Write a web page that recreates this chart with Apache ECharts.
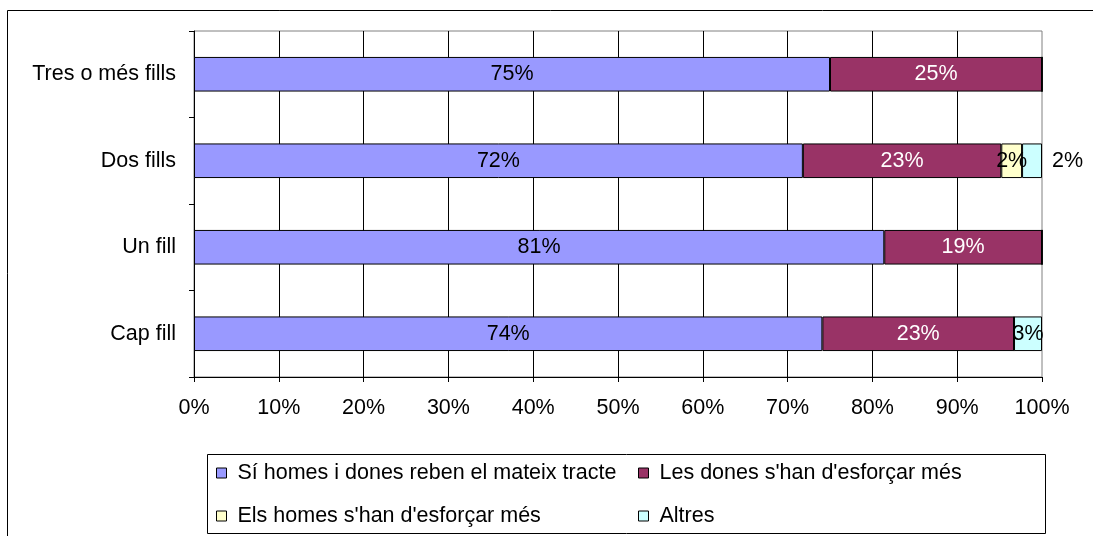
<!DOCTYPE html>
<html>
<head>
<meta charset="utf-8">
<script src="https://cdn.jsdelivr.net/npm/echarts@6/dist/echarts.min.js"></script>
<style>
html,body{margin:0;padding:0;background:#fff;}
#chart{width:1093px;height:536px;}
</style>
</head>
<body>
<div id="chart"></div>
<script>
const categories = ['Cap fill', 'Un fill', 'Dos fills', 'Tres o més fills'];
const seriesNames = ['Sí homes i dones reben el mateix tracte', "Les dones s'han d'esforçar més", "Els homes s'han d'esforçar més", 'Altres'];
const sameTreatment = [74.1, 81.4, 71.8, 75.0];
const womenEffort = [22.6, 18.6, 23.4, 25.0];
const menEffort = [0, 0, 2.45, 0];
const others = [3.3, 0, 2.35, 0];
const xTicks = [0, 10, 20, 30, 40, 50, 60, 70, 80, 90, 100];

const FONT = '"Liberation Sans", Arial, sans-serif';
const FS = 21.5;
const colors = ['#9999FF', '#993366', '#FFFFCC', '#CCFFFF'];
const labelColors = ['#000', '#fff', '#000', '#000'];
const dataSets = [sameTreatment, womenEffort, menEffort, others];

const chart = echarts.init(document.getElementById('chart'));

const series = dataSets.map((arr, si) => ({
  name: seriesNames[si],
  type: 'bar',
  stack: 'total',
  barWidth: '40%',
  itemStyle: { color: colors[si], borderColor: '#000', borderWidth: 1 },
  label: {
    show: true,
    position: 'inside',
    color: labelColors[si],
    fontFamily: FONT,
    fontSize: FS,
    formatter: p => p.value > 0 ? Math.round(p.value) + '%' : ''
  },
  emphasis: { disabled: true },
  data: arr.map((v, i) => {
    const d = { value: v };
    if (si === 3 && categories[i] === 'Dos fills') {
      d.label = { position: 'right', distance: 10 };
    }
    return d;
  })
}));

const legendPos = [[216, 473], [638, 473], [216, 516], [638, 516]];
const legends = seriesNames.map((n, i) => ({
  data: [n],
  left: legendPos[i][0],
  top: legendPos[i][1] - 13,
  padding: 0,
  icon: 'rect',
  itemWidth: 10, itemHeight: 10,
  itemStyle: { borderColor: '#000', borderWidth: 1 },
  textStyle: { color: '#000', fontFamily: FONT, fontSize: FS, lineHeight: 26, padding: [0, 0, 0, 6] },
  selectedMode: false
}));

chart.setOption({
  animation: false,
  backgroundColor: '#fff',
  grid: {
    left: 194, right: 51, top: 31, bottom: 159,
    show: true, borderColor: '#808080', borderWidth: 1, backgroundColor: 'transparent'
  },
  xAxis: {
    type: 'value',
    min: 0, max: 100, interval: 10,
    axisLine: { show: true, lineStyle: { color: '#000', width: 1 } },
    axisTick: { show: true, length: 5, lineStyle: { color: '#000' } },
    axisLabel: {
      color: '#000', fontFamily: FONT, fontSize: FS, margin: 20,
      formatter: v => xTicks.includes(v) ? v + '%' : ''
    },
    splitLine: { show: true, showMaxLine: false, lineStyle: { color: '#000', width: 1 } }
  },
  yAxis: {
    type: 'category',
    data: categories,
    axisLine: { show: true, lineStyle: { color: '#000', width: 1 } },
    axisTick: { show: true, length: 5, lineStyle: { color: '#000' } },
    axisLabel: { color: '#000', fontFamily: FONT, fontSize: FS, margin: 18 },
    splitLine: { show: false }
  },
  legend: legends,
  graphic: [
    { type: 'rect', silent: true, z: -1, shape: { x: 7.5, y: 10.5, width: 1100, height: 540 },
      style: { fill: 'none', stroke: '#000', lineWidth: 1 } },
    { type: 'rect', silent: true, shape: { x: 207.5, y: 454.5, width: 838, height: 79 },
      style: { fill: 'none', stroke: '#000', lineWidth: 1 } }
  ],
  series: series
});
</script>
</body>
</html>
